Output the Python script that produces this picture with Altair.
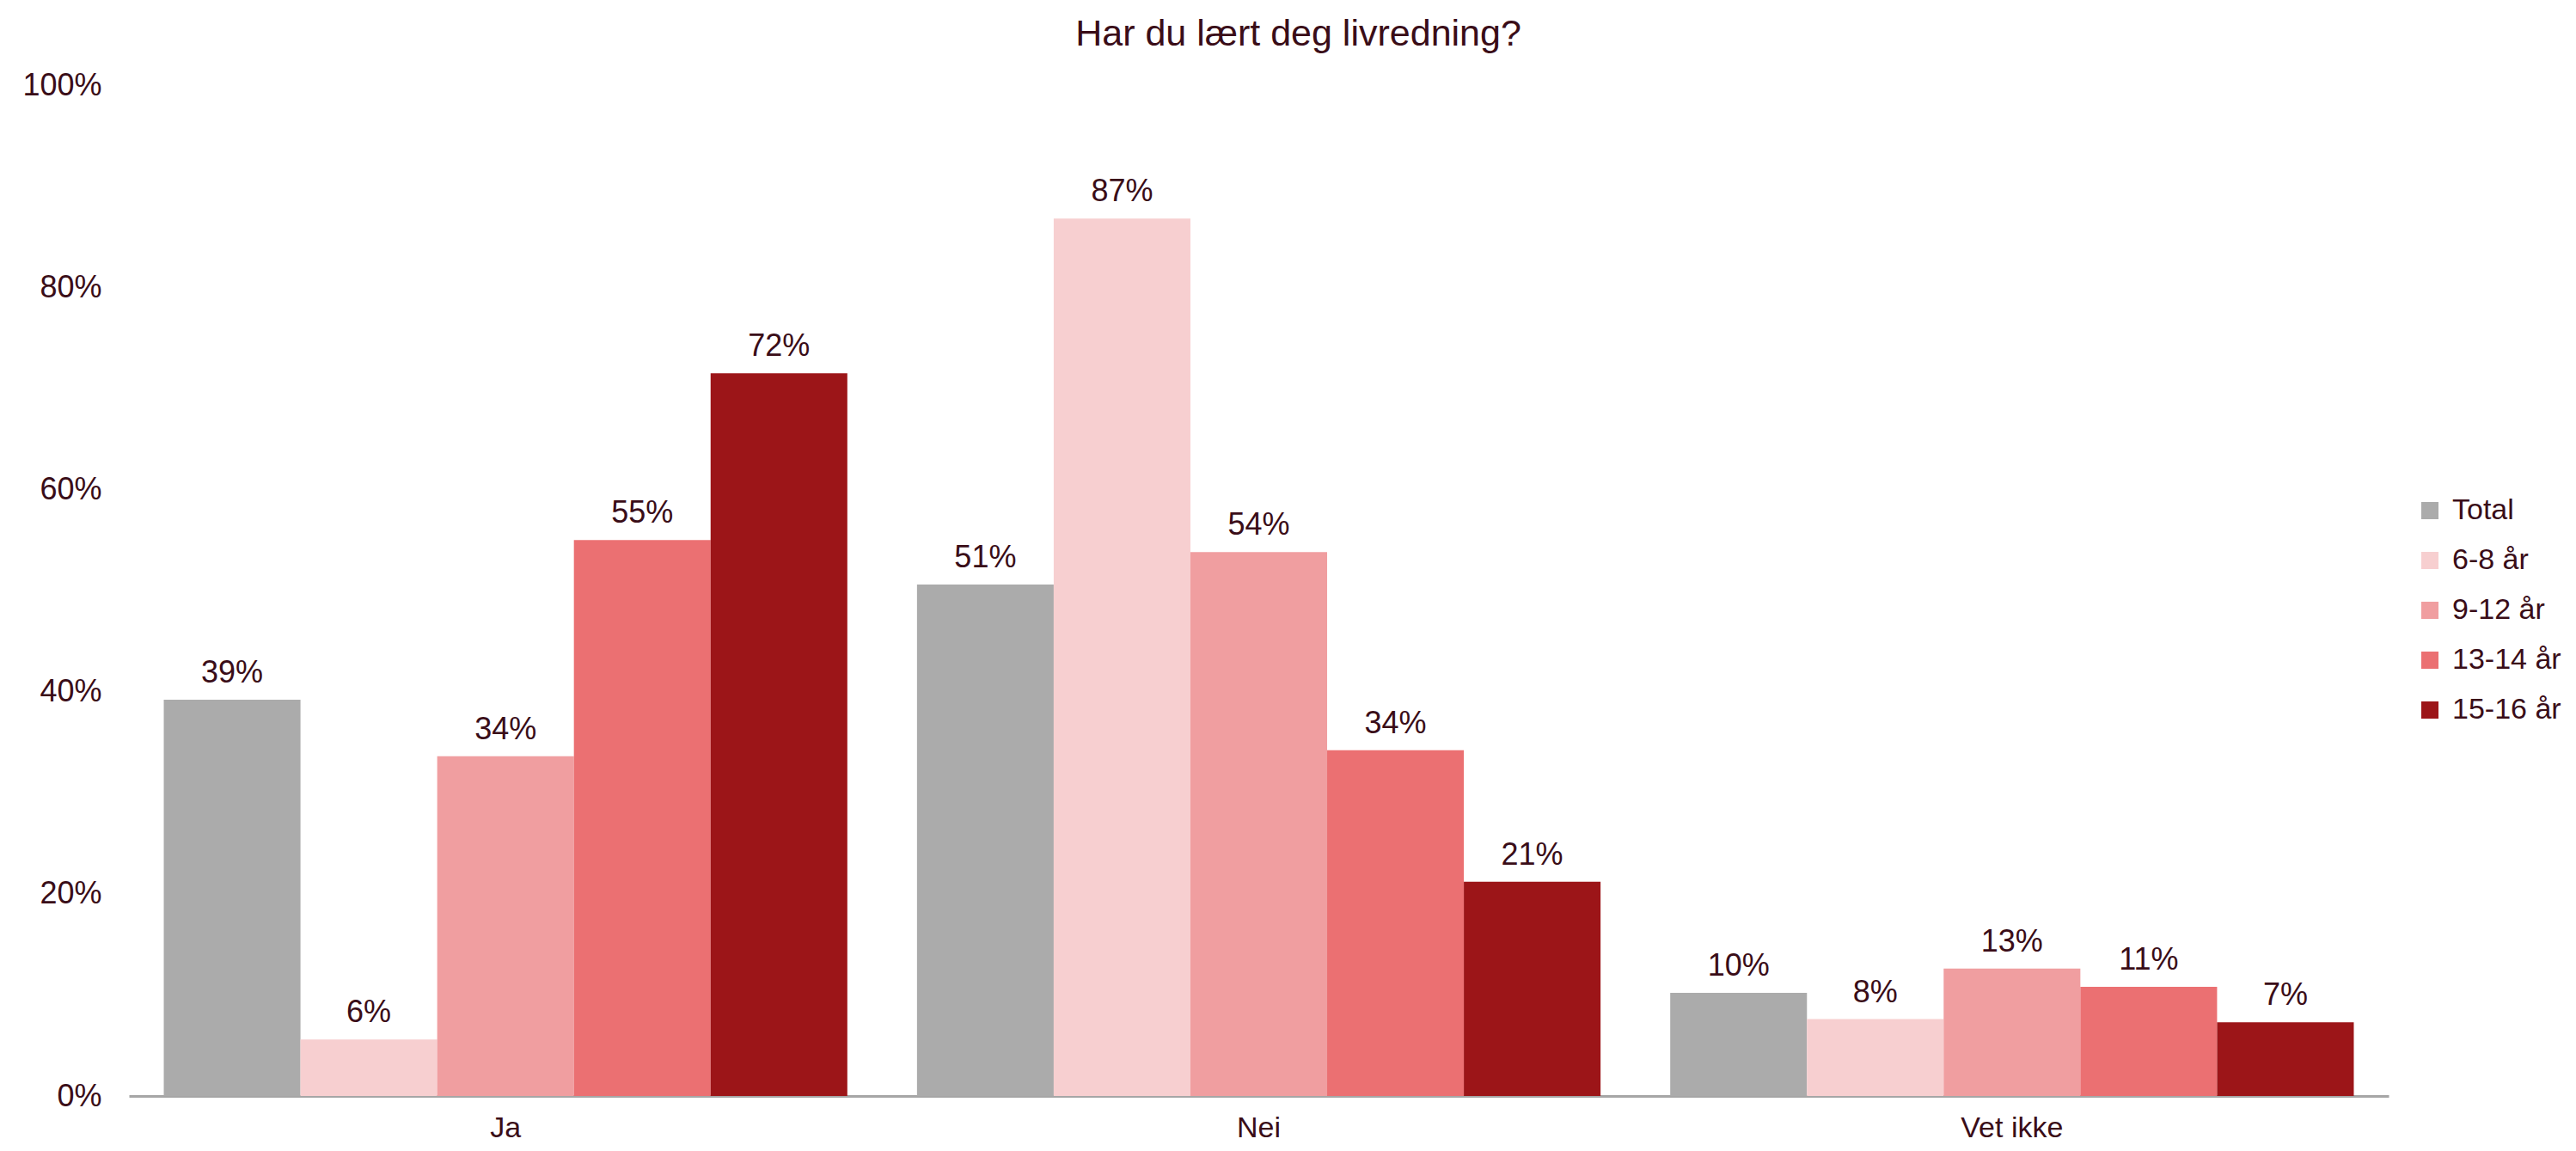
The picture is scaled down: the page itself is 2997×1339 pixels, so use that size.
import altair as alt
import pandas as pd

categories = ["Ja", "Nei", "Vet ikke"]
groups = ["Total", "6-8 år", "9-12 år", "13-14 år", "15-16 år"]
total = [0.392, 0.506, 0.102]
age_6_8 = [0.056, 0.868, 0.076]
age_9_12 = [0.336, 0.538, 0.126]
age_13_14 = [0.550, 0.342, 0.108]
age_15_16 = [0.715, 0.212, 0.073]
colors = ["#ababab", "#f7cfd0", "#f09ea0", "#eb7072", "#9c1518"]
y_ticks = [0, 0.2, 0.4, 0.6, 0.8, 1.0]

series = [total, age_6_8, age_9_12, age_13_14, age_15_16]
rows = []
for g, vals in zip(groups, series):
    for c, v in zip(categories, vals):
        rows.append({"Svar": c, "Gruppe": g, "Andel": v})
df = pd.DataFrame(rows)

TXT = "#3a0d18"
FONT = "Liberation Sans"

x = alt.X("Svar:N", sort=categories, title=None,
          scale=alt.Scale(paddingInner=0.0925, paddingOuter=0.04625),
          axis=alt.Axis(labelAngle=0, ticks=False, domainColor="#a6a6a6", domainWidth=3,
                        labelFont=FONT, labelFontSize=34, labelColor=TXT, labelPadding=20))
xo = alt.XOffset("Gruppe:N", sort=groups, scale=alt.Scale(paddingInner=0, paddingOuter=0))
y = alt.Y("Andel:Q", title=None,
          scale=alt.Scale(domain=[0, 1], nice=False),
          axis=alt.Axis(values=y_ticks, format=".0%", grid=False, ticks=False, domain=False,
                        labelFont=FONT, labelFontSize=36, labelColor=TXT, labelPadding=32))
color = alt.Color("Gruppe:N", sort=groups,
                  scale=alt.Scale(domain=groups, range=colors),
                  legend=alt.Legend(title=None, orient="none", legendX=2660, legendY=478,
                                    symbolType="square", symbolSize=400, symbolStrokeWidth=0,
                                    labelFont=FONT, labelFontSize=34, labelColor=TXT,
                                    labelOffset=9, rowPadding=24, padding=0, labelLimit=300))

base = alt.Chart(df)
bars = base.mark_bar().encode(x=x, xOffset=xo, y=y, color=color)
labels = base.mark_text(baseline="bottom", dy=-12, font=FONT, fontSize=36, color=TXT).encode(
    x=x, xOffset=xo, y=y, text=alt.Text("Andel:Q", format=".0%"))

chart = (bars + labels).properties(
    width=2629, height=1176,
    padding={"left": 142, "top": 91, "right": 205, "bottom": 54},
    autosize="none",
    title=alt.TitleParams("Har du lært deg livredning?", font=FONT, fontSize=43,
                          fontWeight="normal", color=TXT, anchor="middle", dx=46,
                          offset=19),
).configure_view(stroke=None)

chart.save("out.html", embed_options={"renderer": "svg", "actions": False})
